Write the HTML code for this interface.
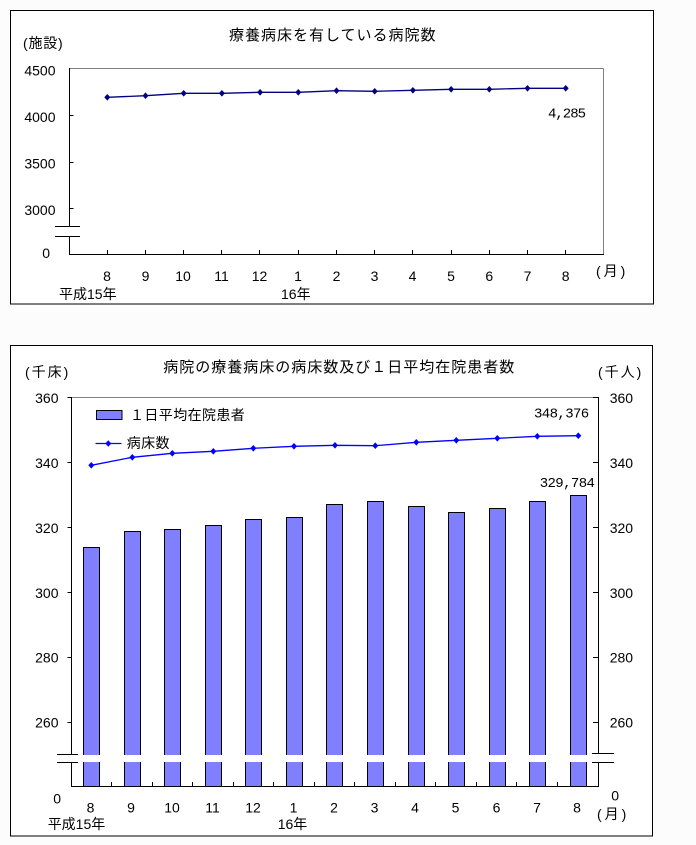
<!DOCTYPE html>
<html><head><meta charset="utf-8"><style>
html,body{margin:0;padding:0;background:#fcfcfc;}
svg{display:block;}
text{font-family:"Liberation Sans","Noto Sans CJK JP",sans-serif;fill:#000;}
.m{font-family:"Liberation Mono","Noto Sans CJK JP",monospace;}
</style></head><body>
<svg width="696" height="845" viewBox="0 0 696 845" xmlns="http://www.w3.org/2000/svg">
<!-- ===== Chart 1 ===== -->
<rect x="10.5" y="10.5" width="643" height="293.5" fill="#fff" stroke="#000" stroke-width="1"/>
<g shape-rendering="crispEdges">
<line x1="69.5" y1="68.5" x2="603.5" y2="68.5" stroke="#808080"/>
<line x1="603.5" y1="68.5" x2="603.5" y2="254.5" stroke="#808080"/>
<line x1="69.5" y1="68" x2="69.5" y2="226.5" stroke="#000"/>
<line x1="69.5" y1="236.5" x2="69.5" y2="254.5" stroke="#000"/>
<line x1="69" y1="254.5" x2="604" y2="254.5" stroke="#000"/>
<line x1="55" y1="226.5" x2="80" y2="226.5" stroke="#000"/>
<line x1="55" y1="236.5" x2="80" y2="236.5" stroke="#000"/>
<line x1="69" y1="115.5" x2="73.5" y2="115.5" stroke="#000"/>
<line x1="69" y1="162.5" x2="73.5" y2="162.5" stroke="#000"/>
<line x1="69" y1="208.5" x2="73.5" y2="208.5" stroke="#000"/>
<g stroke="#000">
<line x1="107.5" y1="250" x2="107.5" y2="254"/>
<line x1="145.5" y1="250" x2="145.5" y2="254"/>
<line x1="183.5" y1="250" x2="183.5" y2="254"/>
<line x1="221.5" y1="250" x2="221.5" y2="254"/>
<line x1="259.5" y1="250" x2="259.5" y2="254"/>
<line x1="298.5" y1="250" x2="298.5" y2="254"/>
<line x1="336.5" y1="250" x2="336.5" y2="254"/>
<line x1="374.5" y1="250" x2="374.5" y2="254"/>
<line x1="412.5" y1="250" x2="412.5" y2="254"/>
<line x1="451.5" y1="250" x2="451.5" y2="254"/>
<line x1="489.5" y1="250" x2="489.5" y2="254"/>
<line x1="527.5" y1="250" x2="527.5" y2="254"/>
<line x1="565.5" y1="250" x2="565.5" y2="254"/>
</g>
</g>
<polyline fill="none" stroke="#000080" stroke-width="1.3" points="107.3,97.3 145.5,95.7 183.7,93.3 221.9,93.3 260.1,92.3 298.3,92.3 336.5,90.7 374.7,91.3 412.9,90.3 451.1,89.3 489.3,89.3 527.5,88.3 565.7,88.3"/>
<g fill="#000080">
<path d="M107.3,94 l3,3.3 l-3,3.3 l-3,-3.3z"/>
<path d="M145.5,92.4 l3,3.3 l-3,3.3 l-3,-3.3z"/>
<path d="M183.7,90 l3,3.3 l-3,3.3 l-3,-3.3z"/>
<path d="M221.9,90 l3,3.3 l-3,3.3 l-3,-3.3z"/>
<path d="M260.1,89 l3,3.3 l-3,3.3 l-3,-3.3z"/>
<path d="M298.3,89 l3,3.3 l-3,3.3 l-3,-3.3z"/>
<path d="M336.5,87.4 l3,3.3 l-3,3.3 l-3,-3.3z"/>
<path d="M374.7,88 l3,3.3 l-3,3.3 l-3,-3.3z"/>
<path d="M412.9,87 l3,3.3 l-3,3.3 l-3,-3.3z"/>
<path d="M451.1,86 l3,3.3 l-3,3.3 l-3,-3.3z"/>
<path d="M489.3,86 l3,3.3 l-3,3.3 l-3,-3.3z"/>
<path d="M527.5,85 l3,3.3 l-3,3.3 l-3,-3.3z"/>
<path d="M565.7,85 l3,3.3 l-3,3.3 l-3,-3.3z"/>
</g>
<text x="229" y="40" font-size="15" letter-spacing="1">療養病床を有している病院数</text>
<text x="23" y="48" font-size="14" letter-spacing="0.8">(施設)</text>
<g font-size="14" text-anchor="end">
<text x="55.5" y="75.3">4500</text>
<text x="55.5" y="122">4000</text>
<text x="55.5" y="168.7">3500</text>
<text x="55.5" y="215">3000</text>
<text x="50" y="258">0</text>
</g>
<g font-size="14" text-anchor="middle">
<text x="107" y="281">8</text>
<text x="145.5" y="281">9</text>
<text x="183" y="281">10</text>
<text x="221.5" y="281">11</text>
<text x="259.5" y="281">12</text>
<text x="298" y="281">1</text>
<text x="336.5" y="281">2</text>
<text x="374.5" y="281">3</text>
<text x="412.5" y="281">4</text>
<text x="451" y="281">5</text>
<text x="489.3" y="281">6</text>
<text x="527.5" y="281">7</text>
<text x="565.7" y="281">8</text>
</g>
<text x="59" y="299" font-size="14">平成15年</text>
<text x="281" y="299" font-size="14">16年</text>
<text x="596" y="276" font-size="14" letter-spacing="3">(月)</text>
<text class="m" x="548" y="117.3" font-size="14" letter-spacing="-1">4,285</text>

<!-- ===== Chart 2 ===== -->
<rect x="10.5" y="345.5" width="642" height="490.5" fill="#fff" stroke="#000" stroke-width="1"/>
<!-- bars -->
<g fill="#8080ff" stroke="#000" stroke-width="1" shape-rendering="crispEdges">
<rect x="83.5" y="547.5" width="16" height="239"/>
<rect x="124.5" y="531.5" width="16" height="255"/>
<rect x="164.5" y="529.5" width="16" height="257"/>
<rect x="205.5" y="525.5" width="16" height="261"/>
<rect x="245.5" y="519.5" width="16" height="267"/>
<rect x="286.5" y="517.5" width="16" height="269"/>
<rect x="326.5" y="504.5" width="16" height="282"/>
<rect x="367.5" y="501.5" width="16" height="285"/>
<rect x="408.5" y="506.5" width="16" height="280"/>
<rect x="448.5" y="512.5" width="16" height="274"/>
<rect x="489.5" y="508.5" width="16" height="278"/>
<rect x="529.5" y="501.5" width="16" height="285"/>
<rect x="570.5" y="495.5" width="16" height="291"/>
</g>
<rect x="72" y="755" width="526" height="7" fill="#fff"/>
<g shape-rendering="crispEdges">
<line x1="71.5" y1="397.5" x2="598.5" y2="397.5" stroke="#808080"/>
<line x1="71.5" y1="397" x2="71.5" y2="754.5" stroke="#000"/>
<line x1="71.5" y1="762.5" x2="71.5" y2="787" stroke="#000"/>
<line x1="598.5" y1="397" x2="598.5" y2="753.5" stroke="#000"/>
<line x1="598.5" y1="762.5" x2="598.5" y2="787" stroke="#000"/>
<line x1="71" y1="786.5" x2="599" y2="786.5" stroke="#000"/>
<line x1="57" y1="754.5" x2="78" y2="754.5" stroke="#000"/>
<line x1="57" y1="762.5" x2="78" y2="762.5" stroke="#000"/>
<line x1="592" y1="753.5" x2="614" y2="753.5" stroke="#000"/>
<line x1="592" y1="762.5" x2="614" y2="762.5" stroke="#000"/>
<g stroke="#000">
<line x1="67.5" y1="397.5" x2="71" y2="397.5"/>
<line x1="67.5" y1="462.5" x2="71" y2="462.5"/>
<line x1="67.5" y1="527.5" x2="71" y2="527.5"/>
<line x1="67.5" y1="592.5" x2="71" y2="592.5"/>
<line x1="67.5" y1="657.5" x2="71" y2="657.5"/>
<line x1="67.5" y1="722.5" x2="71" y2="722.5"/>
<line x1="593" y1="397.5" x2="598" y2="397.5"/>
<line x1="593" y1="462.5" x2="598" y2="462.5"/>
<line x1="593" y1="527.5" x2="598" y2="527.5"/>
<line x1="593" y1="592.5" x2="598" y2="592.5"/>
<line x1="593" y1="657.5" x2="598" y2="657.5"/>
<line x1="593" y1="722.5" x2="598" y2="722.5"/>
<line x1="111.5" y1="782" x2="111.5" y2="786"/>
<line x1="152.5" y1="782" x2="152.5" y2="786"/>
<line x1="192.5" y1="782" x2="192.5" y2="786"/>
<line x1="233.5" y1="782" x2="233.5" y2="786"/>
<line x1="273.5" y1="782" x2="273.5" y2="786"/>
<line x1="314.5" y1="782" x2="314.5" y2="786"/>
<line x1="354.5" y1="782" x2="354.5" y2="786"/>
<line x1="395.5" y1="782" x2="395.5" y2="786"/>
<line x1="435.5" y1="782" x2="435.5" y2="786"/>
<line x1="476.5" y1="782" x2="476.5" y2="786"/>
<line x1="516.5" y1="782" x2="516.5" y2="786"/>
<line x1="557.5" y1="782" x2="557.5" y2="786"/>
</g>
</g>
<!-- line series -->
<polyline fill="none" stroke="#0000ff" stroke-width="1.3" points="91.3,465.3 132.3,457.3 172.3,453.3 213.3,451.3 253.3,448.3 294,446.3 335,445.3 375.3,445.7 416.3,442.3 456.3,440.3 497.3,438.3 537.3,436.3 578.3,435.7"/>
<g fill="#0000ff">
<path d="M91.3,462 l3,3.3 l-3,3.3 l-3,-3.3z"/>
<path d="M132.3,454 l3,3.3 l-3,3.3 l-3,-3.3z"/>
<path d="M172.3,450 l3,3.3 l-3,3.3 l-3,-3.3z"/>
<path d="M213.3,448 l3,3.3 l-3,3.3 l-3,-3.3z"/>
<path d="M253.3,445 l3,3.3 l-3,3.3 l-3,-3.3z"/>
<path d="M294,443 l3,3.3 l-3,3.3 l-3,-3.3z"/>
<path d="M335,442 l3,3.3 l-3,3.3 l-3,-3.3z"/>
<path d="M375.3,442.4 l3,3.3 l-3,3.3 l-3,-3.3z"/>
<path d="M416.3,439 l3,3.3 l-3,3.3 l-3,-3.3z"/>
<path d="M456.3,437 l3,3.3 l-3,3.3 l-3,-3.3z"/>
<path d="M497.3,435 l3,3.3 l-3,3.3 l-3,-3.3z"/>
<path d="M537.3,433 l3,3.3 l-3,3.3 l-3,-3.3z"/>
<path d="M578.3,432.4 l3,3.3 l-3,3.3 l-3,-3.3z"/>
</g>
<!-- legend -->
<rect x="96.5" y="410.5" width="25.5" height="9" fill="#8080ff" stroke="#000" shape-rendering="crispEdges"/>
<line x1="95.5" y1="443.5" x2="121.5" y2="443.5" stroke="#0000ff" stroke-width="1.3"/>
<path d="M108.3,440.2 l3,3.3 l-3,3.3 l-3,-3.3z" fill="#0000ff"/>
<text x="130" y="420" font-size="14" letter-spacing="0.4">１日平均在院患者</text>
<text x="126.7" y="448" font-size="14" letter-spacing="0.4">病床数</text>
<!-- titles and labels -->
<text x="163.3" y="372" font-size="15" letter-spacing="1">病院の療養病床の病床数及び１日平均在院患者数</text>
<text x="25" y="377" font-size="14" letter-spacing="2">(千床)</text>
<text x="598" y="377" font-size="14" letter-spacing="2">(千人)</text>
<g font-size="14" text-anchor="end">
<text x="58.5" y="403">360</text>
<text x="58.5" y="468">340</text>
<text x="58.5" y="533">320</text>
<text x="58.5" y="598">300</text>
<text x="58.5" y="662.5">280</text>
<text x="58.5" y="727.3">260</text>
<text x="61" y="803.3">0</text>
</g>
<g font-size="14">
<text x="609.7" y="403">360</text>
<text x="609.7" y="468">340</text>
<text x="609.7" y="533">320</text>
<text x="609.7" y="598">300</text>
<text x="609.7" y="662.5">280</text>
<text x="609.7" y="727.3">260</text>
<text x="611.3" y="800.7">0</text>
</g>
<g font-size="14" text-anchor="middle">
<text x="90.5" y="812.7">8</text>
<text x="131" y="812.7">9</text>
<text x="172" y="812.7">10</text>
<text x="212.5" y="812.7">11</text>
<text x="253" y="812.7">12</text>
<text x="293.5" y="812.7">1</text>
<text x="334" y="812.7">2</text>
<text x="374.5" y="812.7">3</text>
<text x="415" y="812.7">4</text>
<text x="455.5" y="812.7">5</text>
<text x="496.5" y="812.7">6</text>
<text x="537" y="812.7">7</text>
<text x="577" y="812.7">8</text>
</g>
<text x="47.7" y="829" font-size="14">平成15年</text>
<text x="277.7" y="829" font-size="14">16年</text>
<text x="597" y="819" font-size="14" letter-spacing="3">(月)</text>
<text class="m" x="534" y="417.7" font-size="14" letter-spacing="-0.6">348,376</text>
<text class="m" x="539.7" y="487" font-size="14" letter-spacing="-0.6">329,784</text>
</svg>
</body></html>
